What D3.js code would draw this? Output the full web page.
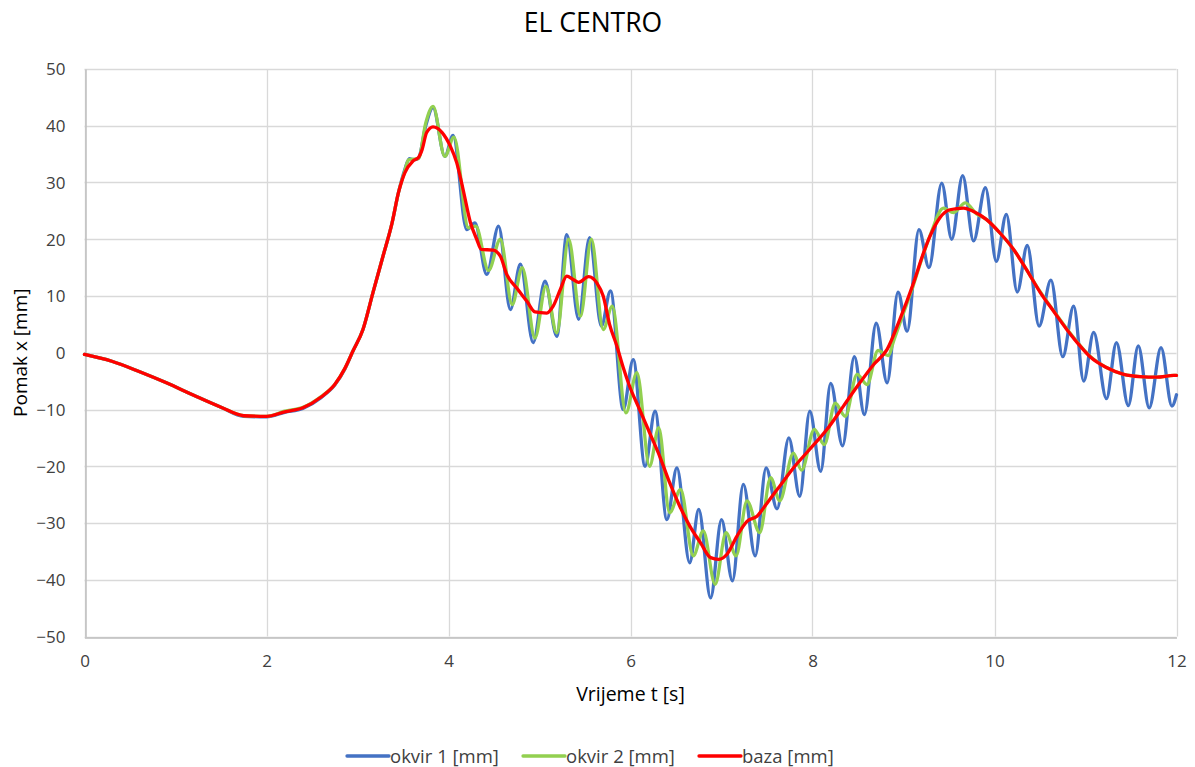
<!DOCTYPE html>
<html>
<head>
<meta charset="utf-8">
<script src="https://cdn.jsdelivr.net/npm/d3@7"></script>
<style>
  html, body { margin: 0; padding: 0; background: #fff; }
  svg { display: block; font-family: "Open Sans", "Noto Sans", sans-serif; }
</style>
</head>
<body>
<svg id="chart" width="1195" height="767"></svg>
<script>
// ---- data (time in s, displacement in mm) ----
const chartTitle = "EL CENTRO";
const xTicks = [0, 2, 4, 6, 8, 10, 12];
const yTicks = [-50, -40, -30, -20, -10, 0, 10, 20, 30, 40, 50];
const seriesNames = ["okvir 1 [mm]", "okvir 2 [mm]", "baza [mm]"];

const bazaT = [0, 0.3, 0.6, 0.9, 1.2, 1.5, 1.75, 2.0, 2.2, 2.4, 2.6, 2.75, 2.86, 2.95, 3.06, 3.17, 3.28, 3.38, 3.45, 3.52, 3.61, 3.67, 3.71, 3.76, 3.83, 3.93, 4.02, 4.09, 4.16, 4.24, 4.31, 4.36, 4.49, 4.57, 4.64, 4.75, 4.86, 4.95, 5.08, 5.15, 5.23, 5.30, 5.37, 5.43, 5.54, 5.63, 5.70, 5.77, 5.85, 5.92, 5.99, 6.10, 6.21, 6.32, 6.43, 6.54, 6.65, 6.77, 6.88, 6.97, 7.06, 7.17, 7.28, 7.39, 7.50, 7.64, 7.79, 7.97, 8.16, 8.34, 8.52, 8.67, 8.82, 8.96, 9.11, 9.22, 9.29, 9.40, 9.51, 9.66, 9.77, 9.91, 10.06, 10.21, 10.35, 10.50, 10.65, 10.79, 10.94, 11.05, 11.23, 11.42, 11.60, 11.78, 11.97, 12.0];
const bazaY = [-0.3, -1.5, -3.3, -5.3, -7.5, -9.6, -11.1, -11.2, -10.4, -9.7, -7.8, -5.6, -2.8, 0.3, 4.1, 10.6, 17, 22.9, 28.2, 31.7, 33.8, 34.4, 35.8, 38.8, 39.8, 38.8, 36.4, 33.5, 28.8, 23, 20, 18.2, 18.1, 17, 13.8, 11.4, 9.1, 7.2, 7.0, 8.2, 11.2, 13.5, 12.9, 12.4, 13.4, 12.3, 10, 5.0, 1.2, -2.6, -5.9, -10, -14.1, -18.2, -22.9, -27, -30.5, -33.5, -36.1, -36.4, -35.5, -32.3, -29.7, -28.8, -26.5, -23.5, -20.3, -17, -13.5, -9.4, -5.3, -2.1, 0.6, 5.9, 12.3, 17.6, 20.5, 23.8, 25.2, 25.5, 24.9, 23.5, 21.1, 18.2, 14.7, 10.7, 7.3, 4.2, 1.2, -0.7, -2.6, -3.8, -4.2, -4.3, -4.0, -4.0];

const okvir1T = [0, 0.3, 0.6, 0.9, 1.2, 1.5, 1.75, 2.0, 2.2, 2.4, 2.6, 2.75, 2.86, 2.95, 3.06, 3.17, 3.28, 3.38, 3.45, 3.52, 3.57, 3.62, 3.67, 3.75, 3.83, 3.96, 4.05, 4.20, 4.29, 4.42, 4.55, 4.68, 4.79, 4.93, 5.06, 5.19, 5.30, 5.43, 5.55, 5.68, 5.78, 5.92, 6.03, 6.16, 6.27, 6.40, 6.51, 6.65, 6.75, 6.88, 7.00, 7.12, 7.24, 7.37, 7.49, 7.61, 7.74, 7.86, 7.97, 8.09, 8.20, 8.33, 8.46, 8.57, 8.70, 8.82, 8.94, 9.04, 9.17, 9.28, 9.42, 9.53, 9.65, 9.77, 9.90, 10.02, 10.13, 10.25, 10.36, 10.49, 10.62, 10.75, 10.87, 10.98, 11.09, 11.23, 11.34, 11.47, 11.58, 11.70, 11.83, 11.95, 12.0];
const okvir1Y = [-0.3, -1.5, -3.3, -5.3, -7.5, -9.6, -11.2, -11.3, -10.5, -9.8, -7.9, -5.7, -2.9, 0.3, 4.1, 10.6, 17, 22.9, 28.2, 32.3, 34.2, 34.0, 34.3, 40, 43.2, 34.6, 38.3, 21.7, 22.9, 13.8, 22.3, 7.6, 15.6, 1.8, 12.6, 2.9, 20.8, 5.9, 20.3, 4.7, 10.9, -10, -1.2, -20, -10.3, -29.4, -20.3, -37, -27.6, -43.2, -29.4, -40.2, -23.2, -35.8, -20.3, -27.5, -15, -25.3, -10.3, -20.9, -5.4, -16.4, -0.7, -10.9, 5.2, -5.3, 10.7, 3.8, 21.7, 15, 29.9, 20, 31.2, 19.7, 29.1, 16.1, 24.4, 10.7, 18.9, 4.7, 12.8, -0.7, 8.2, -5, 3.6, -8.1, 1.8, -9.3, 1.2, -9.7, 0.9, -9.4, -7.4];

const okvir2T = [0, 0.3, 0.6, 0.9, 1.2, 1.5, 1.75, 2.0, 2.2, 2.4, 2.6, 2.75, 2.86, 2.95, 3.06, 3.17, 3.28, 3.38, 3.45, 3.52, 3.56, 3.67, 3.75, 3.83, 3.96, 4.06, 4.22, 4.30, 4.44, 4.57, 4.70, 4.81, 4.95, 5.07, 5.19, 5.32, 5.45, 5.57, 5.70, 5.80, 5.95, 6.07, 6.21, 6.31, 6.43, 6.55, 6.69, 6.80, 6.93, 7.05, 7.16, 7.28, 7.42, 7.54, 7.64, 7.79, 7.88, 8.02, 8.13, 8.25, 8.36, 8.49, 8.60, 8.72, 8.83, 8.90, 9.00, 9.10, 9.20, 9.30, 9.44, 9.55, 9.68, 9.80, 9.91, 10.06, 10.21, 10.35, 10.50, 10.65, 10.79, 10.94, 11.05, 11.23, 11.42, 11.60, 11.78, 11.97, 12.0];
const okvir2Y = [-0.3, -1.5, -3.3, -5.3, -7.5, -9.6, -11.1, -11.2, -10.3, -9.6, -7.7, -5.6, -2.8, 0.3, 4.1, 10.6, 17, 22.9, 28.2, 32.0, 34.0, 34.2, 40.5, 43.4, 34.6, 38.0, 22.0, 22.3, 14.5, 20.0, 8.5, 15.0, 2.6, 11.7, 3.5, 20.0, 6.4, 20.0, 4.1, 8.2, -10.6, -3.5, -20, -13.2, -28.2, -24.1, -35.8, -31.4, -40.8, -31.7, -35.8, -26.1, -31.7, -22, -26.1, -17.7, -20.7, -13.5, -16.2, -8.9, -11.2, -3.8, -5.6, 0.4, -0.5, 2.5, 7.0, 11.5, 16.5, 21, 25.5, 24.7, 26.4, 24.5, 23.5, 21.1, 18.2, 14.7, 10.8, 7.4, 4.3, 1.3, -0.6, -2.6, -3.8, -4.2, -4.3, -4.0, -4.0];

const seriesColors = ["#4472C4", "#92D050", "#FF0000"];

// ---- layout ----
const svg = d3.select("#chart");
const m = { left: 84.5, right: 1176.5, top: 69, bottom: 636.5 };

const x = d3.scaleLinear().domain([0, 12]).range([m.left, m.right]);
const y = d3.scaleLinear().domain([-50, 50]).range([m.bottom, m.top]);

// gridlines
const grid = svg.append("g");
grid.selectAll(".hg").data(yTicks).enter().append("line")
  .attr("x1", m.left).attr("x2", m.right)
  .attr("y1", d => Math.round(y(d)) + 0.5).attr("y2", d => Math.round(y(d)) + 0.5)
  .attr("stroke", "#d9d9d9").attr("stroke-width", 1.3);
grid.selectAll(".vg").data(xTicks).enter().append("line")
  .attr("y1", m.top).attr("y2", m.bottom)
  .attr("x1", d => Math.round(x(d)) + 0.5).attr("x2", d => Math.round(x(d)) + 0.5)
  .attr("stroke", "#d9d9d9").attr("stroke-width", 1.3);

// axes
const xAxis = d3.axisBottom(x).tickValues(xTicks).tickSize(0).tickPadding(17).tickFormat(d3.format("d"));
const yAxis = d3.axisLeft(y).tickValues(yTicks).tickSize(0).tickPadding(20).tickFormat(d3.format("d"));

const gx = svg.append("g").attr("transform", `translate(0,${Math.round(m.bottom) + 0.5})`).call(xAxis);
const gy = svg.append("g").attr("transform", `translate(${Math.round(m.left) + 0.5},0)`).call(yAxis);
[gx, gy].forEach(g => {
  g.select(".domain").attr("stroke", "#bfbfbf").attr("stroke-width", 1.5);
  g.selectAll("text").attr("fill", "#404040").style("font-size", "17px")
    .style("font-family", "'Open Sans', sans-serif");
});
gy.selectAll("text").attr("dy", "0.35em");

// series lines
const line = d3.line().x(d => x(d[0])).y(d => y(d[1])).curve(d3.curveMonotoneX);
const series = [
  d3.zip(okvir1T, okvir1Y),
  d3.zip(okvir2T, okvir2Y),
  d3.zip(bazaT, bazaY)
];
svg.append("g").selectAll("path").data(series).enter().append("path")
  .attr("d", line)
  .attr("fill", "none")
  .attr("stroke", (d, i) => seriesColors[i])
  .attr("stroke-width", 3.3)
  .attr("stroke-linejoin", "round")
  .attr("stroke-linecap", "round");

// title
svg.append("text").attr("x", 593).attr("y", 32).attr("text-anchor", "middle")
  .attr("fill", "#000").style("font-size", "26.5px").text(chartTitle);

// axis titles
svg.append("text").attr("x", (m.left + m.right) / 2).attr("y", 701).attr("text-anchor", "middle")
  .attr("fill", "#000").style("font-size", "19.5px").text("Vrijeme t [s]");
svg.append("text").attr("transform", `translate(27,${(m.top + m.bottom) / 2}) rotate(-90)`)
  .attr("text-anchor", "middle").attr("fill", "#000").style("font-size", "19px").text("Pomak x [mm]");

// legend
const legendItems = [
  { x: 347, name: seriesNames[0], color: seriesColors[0] },
  { x: 523, name: seriesNames[1], color: seriesColors[1] },
  { x: 699, name: seriesNames[2], color: seriesColors[2] }
];
const lg = svg.append("g");
legendItems.forEach(it => {
  lg.append("line").attr("x1", it.x).attr("x2", it.x + 42).attr("y1", 756).attr("y2", 756)
    .attr("stroke", it.color).attr("stroke-width", 3.3).attr("stroke-linecap", "round");
  lg.append("text").attr("x", it.x + 43).attr("y", 762.5).attr("fill", "#404040")
    .style("font-size", "18.5px").text(it.name);
});
</script>
</body>
</html>
